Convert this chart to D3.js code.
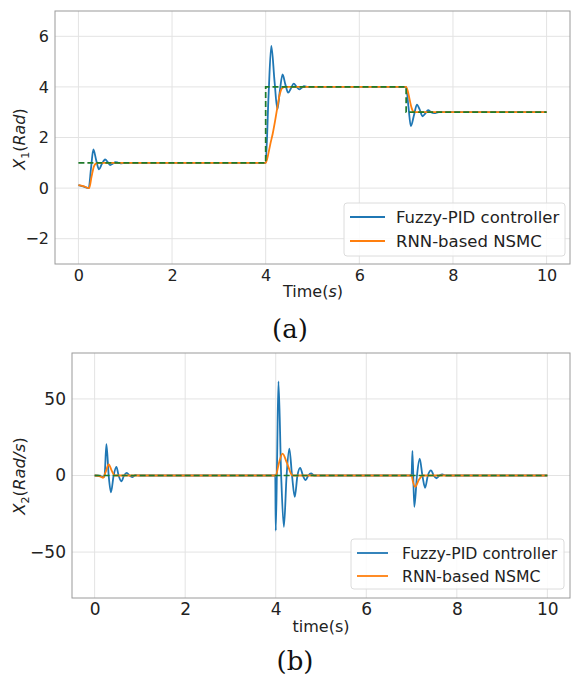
<!DOCTYPE html>
<html><head><meta charset="utf-8">
<script src="https://cdn.jsdelivr.net/npm/d3@7/dist/d3.min.js"></script>
<style>
body{margin:0;background:#fff;}
svg{display:block;font-family:"DejaVu Sans",sans-serif;}
</style></head>
<body><svg id="c" width="571" height="676"></svg>
<script>
// ---------- data ----------
const xTicks = [0, 2, 4, 6, 8, 10];
const yTicksA = [-2, 0, 2, 4, 6];
const yTicksB = [-50, 0, 50];
const legendLabels = ["Fuzzy-PID controller", "RNN-based NSMC"];

// (a) reference X1
const refA_t = [0, 4, 4, 7, 7, 10];
const refA_v = [1, 1, 4, 4, 3, 3];
// (a) Fuzzy-PID X1
const fuzzyA_t = [0, 0.1, 0.22, 0.27, 0.32, 0.38, 0.44, 0.5, 0.57, 0.63, 0.68, 0.74, 0.79, 0.85, 0.9, 1.0,
  4.0, 4.06, 4.12, 4.19, 4.25, 4.3, 4.36, 4.42, 4.48, 4.54, 4.6, 4.66, 4.72, 4.77, 4.82, 4.9, 5.0,
  7.0, 7.05, 7.1, 7.17, 7.23, 7.29, 7.35, 7.41, 7.47, 7.53, 7.6, 7.7, 10];
const fuzzyA_v = [0.12, 0.07, 0.0, 0.8, 1.53, 1.1, 0.74, 0.95, 1.13, 1.02, 0.91, 0.97, 1.03, 1.0, 0.98, 1.0,
  1.0, 3.6, 5.62, 4.2, 3.12, 3.8, 4.49, 4.1, 3.77, 3.95, 4.13, 4.0, 3.9, 3.97, 4.03, 4.0, 4.0,
  4.0, 3.2, 2.45, 2.9, 3.3, 3.1, 2.84, 2.95, 3.08, 3.0, 2.96, 3.0, 3.0];
// (a) RNN-based NSMC X1
const nsmcA_t = [0, 0.1, 0.23, 0.28, 0.33, 0.38, 0.43, 0.5, 4.0, 4.05, 4.1, 4.15, 4.2, 4.25, 4.3, 4.35, 4.42,
  7.0, 7.04, 7.08, 7.12, 7.17, 7.25, 10];
const nsmcA_v = [0.12, 0.08, 0.0, 0.45, 0.85, 0.98, 1.0, 1.0, 1.0, 1.3, 1.75, 2.15, 2.65, 3.2, 3.7, 3.95, 4.0,
  4.0, 3.8, 3.45, 3.15, 3.0, 3.0, 3.0];

// (b) reference X2
const refB_t = [0, 10];
const refB_v = [0, 0];
// (b) Fuzzy-PID X2
const fuzzyB_t = [0, 0.15, 0.2, 0.22, 0.26, 0.31, 0.36, 0.42, 0.48, 0.53, 0.59, 0.65, 0.71, 0.77, 0.83, 0.9, 1.0,
  3.99, 4.0, 4.03, 4.06, 4.12, 4.18, 4.24, 4.3, 4.36, 4.42, 4.48, 4.54, 4.6, 4.66, 4.72, 4.78, 4.85, 4.95,
  7.0, 7.02, 7.06, 7.12, 7.18, 7.24, 7.3, 7.36, 7.43, 7.49, 7.55, 7.62, 7.68, 7.76, 10];
const fuzzyB_v = [0, -0.5, -1, 0, 20.5, 0, -11, 0, 5.6, 0, -3.8, 0, 1.7, 0, -1, 0.3, 0,
  0, -36, 10, 61.5, 0, -33.5, 0, 17.6, 0, -14, 0, 5, 0, -3, 0, 1.3, 0, 0,
  0, 16, -20.5, 0, 11, 0, -8, 0, 3.4, 0, -1.8, 0, 0.7, 0, 0];
// (b) RNN-based NSMC X2
const nsmcB_t = [0, 0.12, 0.19, 0.24, 0.31, 0.38, 0.44, 1.0, 4.0, 4.07, 4.15, 4.25, 4.37, 7.0, 7.03, 7.08, 7.16, 7.25, 10];
const nsmcB_v = [0, -0.5, -1.5, 2, 7.2, 3, 0, 0, 0, 8, 14.3, 8, 0, 0, -4, -7.4, -3, 0, 0];

// ---------- drawing ----------
const svg = d3.select("#c");
const BLUE = "#1f77b4", ORANGE = "#ff7f0e", GREEN = "#1f7a2a";
const LW = 1.8;
const zip = (t, v) => t.map((d, i) => [d, v[i]]);

function panel(o) {
  const x = d3.scaleLinear().domain([-0.5, 10.5]).range([o.left, o.right]);
  const y = d3.scaleLinear().domain(o.ydom).range([o.bottom, o.top]);
  const g = svg.append("g");
  // grid
  g.selectAll(".gx").data(xTicks).join("line")
    .attr("x1", d => x(d)).attr("x2", d => x(d)).attr("y1", o.top).attr("y2", o.bottom)
    .attr("stroke", "#e3e3e3").attr("stroke-width", 1);
  g.selectAll(".gy").data(o.yticks).join("line")
    .attr("y1", d => y(d)).attr("y2", d => y(d)).attr("x1", o.left).attr("x2", o.right)
    .attr("stroke", "#e3e3e3").attr("stroke-width", 1);
  // axes via d3 axis
  const ax = g.append("g").attr("transform", `translate(0,${o.bottom})`)
    .call(d3.axisBottom(x).tickValues(xTicks).tickSize(0).tickPadding(o.xpad).tickFormat(d3.format("d")));
  const ay = g.append("g").attr("transform", `translate(${o.left},0)`)
    .call(d3.axisLeft(y).tickValues(o.yticks).tickSize(0).tickPadding(6)
      .tickFormat(d => d < 0 ? "\u2212" + Math.abs(d) : String(d)));
  [ax, ay].forEach(a => {
    a.select(".domain").remove();
    a.selectAll("text").attr("font-size", o.tickFs).attr("fill", "#222")
      .attr("font-family", "DejaVu Sans");
  });
  // lines
  const line = d3.line().x(d => x(d[0])).y(d => y(d[1])).curve(d3.curveMonotoneX);
  const lineL = d3.line().x(d => x(d[0])).y(d => y(d[1]));
  const clipId = "clip" + o.id;
  svg.append("clipPath").attr("id", clipId).append("rect")
    .attr("x", o.left).attr("y", o.top).attr("width", o.right - o.left).attr("height", o.bottom - o.top);
  const lg = g.append("g").attr("clip-path", `url(#${clipId})`);
  lg.append("path").attr("d", line(o.blue)).attr("fill", "none").attr("stroke", BLUE).attr("stroke-width", LW);
  lg.append("path").attr("d", line(o.orange)).attr("fill", "none").attr("stroke", ORANGE).attr("stroke-width", LW);
  lg.append("path").attr("d", lineL(o.ref)).attr("fill", "none").attr("stroke", GREEN)
    .attr("stroke-width", 1.7).attr("stroke-dasharray", "6,3");
  // frame
  g.append("rect").attr("x", o.left).attr("y", o.top).attr("width", o.right - o.left)
    .attr("height", o.bottom - o.top).attr("fill", "none").attr("stroke", "#9a9a9a").attr("stroke-width", 1);
  // legend
  const L = o.legend;
  const lgd = g.append("g");
  lgd.append("rect").attr("x", L.x).attr("y", L.y).attr("width", L.w).attr("height", L.h)
    .attr("rx", 3).attr("fill", "#fff").attr("fill-opacity", 0.85).attr("stroke", "#dcdcdc");
  [BLUE, ORANGE].forEach((c, i) => {
    const yy = L.y + L.r0 + i * L.dy;
    lgd.append("line").attr("x1", L.lx0).attr("x2", L.lx1).attr("y1", yy).attr("y2", yy)
      .attr("stroke", c).attr("stroke-width", LW);
    lgd.append("text").attr("x", L.tx).attr("y", yy).attr("dominant-baseline", "central")
      .attr("font-size", L.fs).attr("fill", "#222").text(legendLabels[i]);
  });
  return {x, y, g};
}

const A = panel({
  id: "a", left: 55, right: 570, top: 11, bottom: 264, ydom: [-3, 7], yticks: yTicksA, tickFs: 16, xpad: 6,
  blue: zip(fuzzyA_t, fuzzyA_v), orange: zip(nsmcA_t, nsmcA_v), ref: zip(refA_t, refA_v),
  legend: {x: 344, y: 203, w: 221, h: 53, r0: 14, dy: 24, lx0: 350, lx1: 385, tx: 396, fs: 16.5}
});
const B = panel({
  id: "b", left: 72, right: 570, top: 353, bottom: 598, ydom: [-80, 80], yticks: yTicksB, tickFs: 17, xpad: 5,
  blue: zip(fuzzyB_t, fuzzyB_v), orange: zip(nsmcB_t, nsmcB_v), ref: zip(refB_t, refB_v),
  legend: {x: 351, y: 539, w: 213, h: 50, r0: 14, dy: 23, lx0: 357, lx1: 388, tx: 402, fs: 15.7}
});

// axis labels
const t1 = svg.append("text").attr("x", 313).attr("y", 297).attr("text-anchor", "middle")
  .attr("font-size", 16).attr("fill", "#222");
t1.append("tspan").text("Time(");
t1.append("tspan").attr("font-style", "italic").text("s");
t1.append("tspan").text(")");

svg.append("text").attr("x", 321).attr("y", 632).attr("text-anchor", "middle")
  .attr("font-size", 16).attr("fill", "#222").text("time(s)");

const y1 = svg.append("text").attr("transform", "translate(25,139) rotate(-90)").attr("text-anchor", "middle")
  .attr("font-size", 16).attr("fill", "#222");
y1.append("tspan").attr("font-style", "italic").text("X");
y1.append("tspan").attr("font-size", 11).attr("dy", 4).text("1");
y1.append("tspan").attr("dy", -4).text("(");
y1.append("tspan").attr("font-style", "italic").text("Rad");
y1.append("tspan").text(")");

const y2 = svg.append("text").attr("transform", "translate(25,476) rotate(-90)").attr("text-anchor", "middle")
  .attr("font-size", 16.5).attr("fill", "#222");
y2.append("tspan").attr("font-style", "italic").text("X");
y2.append("tspan").attr("font-size", 11).attr("dy", 4).text("2");
y2.append("tspan").attr("dy", -4).text("(");
y2.append("tspan").attr("font-style", "italic").text("Rad/s");
y2.append("tspan").text(")");

// captions
svg.append("text").attr("x", 290).attr("y", 338).attr("text-anchor", "middle")
  .attr("font-family", "DejaVu Serif").attr("font-size", 26).attr("fill", "#111").text("(a)");
svg.append("text").attr("x", 295).attr("y", 670).attr("text-anchor", "middle")
  .attr("font-family", "DejaVu Serif").attr("font-size", 26).attr("fill", "#111").text("(b)");
</script></body></html>
